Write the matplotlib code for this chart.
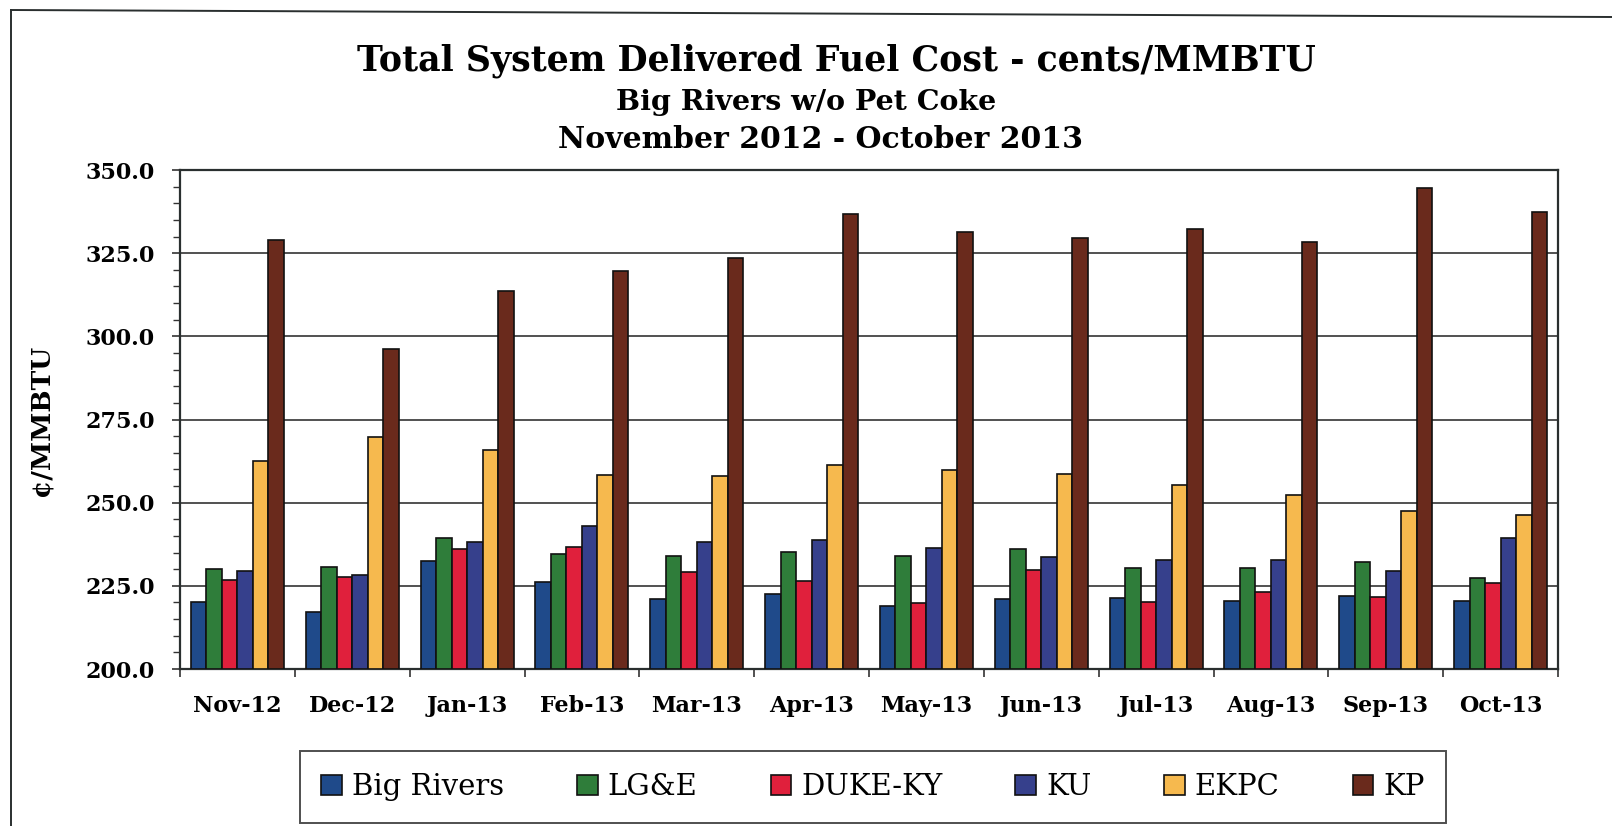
import numpy as np
import matplotlib
matplotlib.use("Agg")
import matplotlib.pyplot as plt
from matplotlib.ticker import MultipleLocator

months = ["Nov-12", "Dec-12", "Jan-13", "Feb-13", "Mar-13", "Apr-13",
          "May-13", "Jun-13", "Jul-13", "Aug-13", "Sep-13", "Oct-13"]
big_rivers = [220.2, 217.2, 232.4, 226.2, 221.0, 222.6, 218.9, 220.9, 221.3, 220.5, 221.9, 220.5]
lge = [230.2, 230.6, 239.4, 234.7, 234.0, 235.3, 234.1, 236.1, 230.5, 230.5, 232.2, 227.5]
duke_ky = [226.8, 227.6, 236.2, 236.8, 229.3, 226.4, 219.8, 229.8, 220.2, 223.2, 221.6, 226.0]
ku = [229.6, 228.3, 238.2, 243.1, 238.3, 238.8, 236.5, 233.8, 232.7, 232.9, 229.4, 239.5]
ekpc = [262.6, 269.6, 265.8, 258.4, 257.9, 261.4, 259.9, 258.6, 255.2, 252.4, 247.6, 246.2]
kp = [329.1, 296.1, 313.5, 319.5, 323.6, 336.8, 331.5, 329.5, 332.3, 328.4, 344.6, 337.4]

series = [("Big Rivers", big_rivers, "#1f4a8a"),
          ("LG&E", lge, "#2f7d3a"),
          ("DUKE-KY", duke_ky, "#e0203c"),
          ("KU", ku, "#36408c"),
          ("EKPC", ekpc, "#f6b94e"),
          ("KP", kp, "#6a2a1c")]

SERIF = "DejaVu Serif"

fig = plt.figure(figsize=(16.12, 8.26), dpi=100)
ax = fig.add_axes([180 / 1612, 1 - 669 / 826, 1378 / 1612, 499 / 826])

x = np.arange(len(months))
w = 0.135
for k, (name, vals, col) in enumerate(series):
    ax.bar(x + (k - 2.5) * w, np.array(vals) - 200, width=w, bottom=200,
           color=col, edgecolor="#111111", linewidth=1.2, label=name, zorder=3)

ax.set_xlim(-0.5, len(months) - 0.5)
ax.set_ylim(200, 350)
ax.yaxis.set_minor_locator(MultipleLocator(5))
ax.set_yticks(np.arange(200, 351, 25))
ax.set_yticklabels([f"{v:.1f}" for v in np.arange(200, 351, 25)],
                   fontfamily=SERIF, fontweight="bold", fontsize=16)
ax.grid(axis="y", color="#333333", lw=1.2, zorder=1)

ax.set_xticks(x)
ax.set_xticklabels(months, fontfamily=SERIF, fontweight="bold", fontsize=16)
ax.set_xticks(np.arange(-0.5, len(months)), minor=True)
ax.tick_params(axis="x", which="major", length=0, pad=19)
ax.tick_params(axis="x", which="minor", length=6, width=1.2, color="#333333")
ax.tick_params(axis="y", which="major", length=6, width=1.2, color="#333333", pad=12)
ax.tick_params(axis="y", which="minor", length=5, width=1.0, color="#333333")
for s in ax.spines.values():
    s.set_color("#2a2f2f")
    s.set_linewidth(1.6)

fig.text(41 / 1612, 1 - 420 / 826, "¢/MMBTU", rotation=90, ha="center", va="center",
         fontfamily=SERIF, fontweight="bold", fontsize=19)

fig.text(836 / 1612, 1 - 61 / 826, "Total System Delivered Fuel Cost - cents/MMBTU",
         ha="center", va="center", fontfamily=SERIF, fontweight="bold", fontsize=25)
fig.text(806 / 1612, 1 - 103 / 826, "Big Rivers w/o Pet Coke",
         ha="center", va="center", fontfamily=SERIF, fontweight="bold", fontsize=20.5)
fig.text(820 / 1612, 1 - 139 / 826, "November 2012 - October 2013",
         ha="center", va="center", fontfamily=SERIF, fontweight="bold", fontsize=21.5)

leg = fig.legend(loc="center", bbox_to_anchor=(873 / 1612, 1 - 787 / 826), ncol=6,
                 frameon=True, fancybox=False, edgecolor="#222222",
                 prop={"family": SERIF, "size": 21}, handlelength=0.7, handleheight=0.7,
                 handletextpad=0.35, columnspacing=2.5, borderpad=0.75)
leg.get_frame().set_linewidth(1.4)

# outer chart frame
fig.add_artist(plt.Line2D([11 / 1612, 11 / 1612], [0, 1 - 10 / 826], color="#2a2f2f", lw=1.4))
fig.add_artist(plt.Line2D([11 / 1612, 1], [1 - 10 / 826, 1 - 17 / 826], color="#2a2f2f", lw=1.4))

fig.savefig("out.png", dpi=100)
